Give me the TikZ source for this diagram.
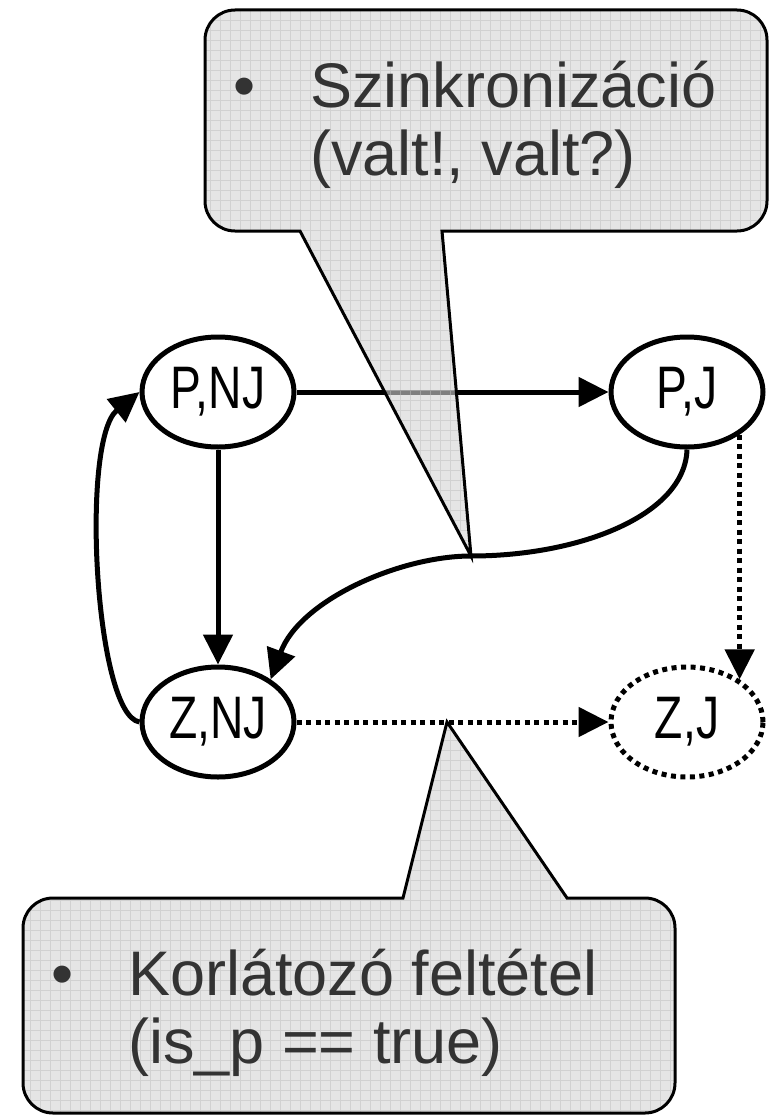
\documentclass[tikz,border=0pt]{standalone}
\usepackage{fontspec}
\setmainfont{Liberation Sans}
\newfontfamily\narrowfont[FakeStretch=0.77]{Liberation Sans}
\usetikzlibrary{arrows.meta,shapes.geometric}

\begin{document}
\begin{tikzpicture}[x=1pt,y=-1pt,
  statenode/.style={draw, ellipse, line width=5pt, minimum width=152pt, minimum height=110pt, inner sep=0pt, font=\narrowfont\fontsize{60}{60}\selectfont},
  conn/.style={line width=5pt, -{Triangle[length=30pt,width=29pt]}},
  dotconn/.style={conn, dash pattern=on 5pt off 4.5pt},
  callbox/.style={draw, line width=3pt, fill=black!17, fill opacity=0.6},
  gridline/.style={draw=black!25, line width=0.8pt, draw opacity=0.5},
  calltext/.style={text=black!80, font=\fontsize{63}{68}\selectfont, inner sep=0pt}]
\useasboundingbox (0,0) rectangle (769,1116);

\node[statenode] (PNJ) at (218,392) {P,NJ};
\node[statenode] (PJ) at (687,392) {P,J};
\node[statenode] (ZNJ) at (218,722) {Z,NJ};
\node[statenode, dash pattern=on 5pt off 4.5pt] (ZJ) at (687,722) {Z,J};
\coordinate (synctip) at (471,556);
\coordinate (guardtip) at (447,722);

\draw[conn] (PNJ) -- (PJ);
\draw[conn] (PNJ) -- (ZNJ);
\draw[conn] (PJ.south) .. controls (685,515) and (580,556) .. (synctip) .. controls (400,556) and (300,600) .. (ZNJ.39);
\draw[conn] (ZNJ.west) .. controls (95,715) and (80,440) .. (PNJ.west);
\draw[dotconn] (PJ.-39) -- (ZJ.39);
\draw[dotconn] (ZNJ) -- (guardtip) -- (ZJ);

% callouts
\newcommand\syncpath{(synctip) -- (300,231) [rounded corners=30pt] -- (205,231) -- (205,10) -- (767,10) -- (767,231) [sharp corners] -- (442,231) -- cycle}
\newcommand\guardpath{(guardtip) -- (567,898) [rounded corners=30pt] -- (675,898) -- (675,1113) -- (23,1113) -- (23,898) [sharp corners] -- (403,898) -- cycle}
\fill[callbox, draw=none] \syncpath;
\begin{scope}
  \clip \syncpath;
  \draw[gridline] (0,1116) grid[step=10pt] (769,0);
\end{scope}
\draw[line width=3pt] \syncpath;
\fill[callbox, draw=none] \guardpath;
\begin{scope}
  \clip \guardpath;
  \draw[gridline] (0,1116) grid[step=10pt] (769,0);
\end{scope}
\draw[line width=3pt] \guardpath;

\node[calltext, anchor=base] (syncdot) at (245,107) {•};
\node[calltext, anchor=base west] (sync1) at (310,107) {Szinkronizáció};
\node[calltext, anchor=base west] (sync2) at (310,175) {(valt!, valt?)};
\node[calltext, anchor=base] (guarddot) at (63,995) {•};
\node[calltext, anchor=base west] (guard1) at (128,995) {Korlátozó feltétel};
\node[calltext, anchor=base west] (guard2) at (128,1063) {(is\_p == true)};
\end{tikzpicture}
\end{document}
